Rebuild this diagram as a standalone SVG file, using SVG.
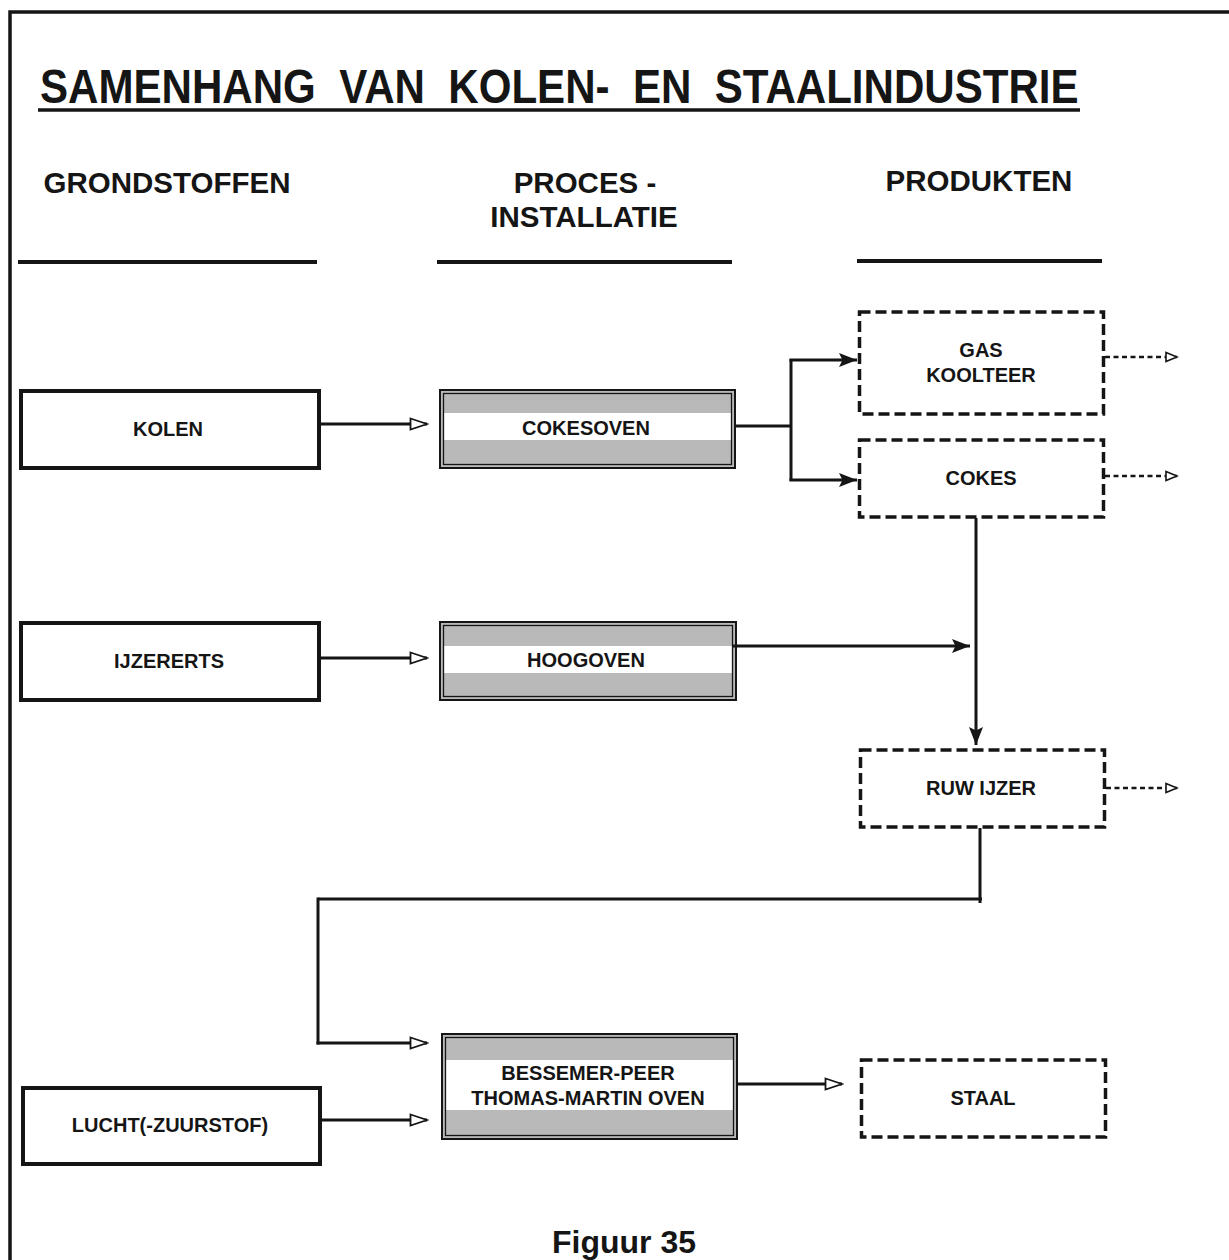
<svg xmlns="http://www.w3.org/2000/svg" width="1229" height="1260" viewBox="0 0 1229 1260">
<style>
text{font-family:"Liberation Sans",Arial,sans-serif;font-weight:bold;fill:#151515;text-anchor:middle}
.ttl{font-size:49px;text-anchor:start}
.hdr{font-size:29.5px}
.lbl{font-size:20px}
.raw{fill:#fff;stroke:#151515;stroke-width:4}
.procOuter{fill:#b9b9b9;stroke:#151515;stroke-width:2}
.procInner{fill:none;stroke:#151515;stroke-width:1.3}
.band{fill:#fff}
.prod{fill:#fff;stroke:#151515;stroke-width:3.5;stroke-dasharray:11 5}
.rule{stroke:#151515;stroke-width:4}
.conn{fill:none;stroke:#151515;stroke-width:3}
.dot{fill:none;stroke:#151515;stroke-width:2.5;stroke-dasharray:5 3.5}
</style>
<defs>
<marker id="open" viewBox="0 0 20 14" refX="18" refY="7" markerWidth="20" markerHeight="14" markerUnits="userSpaceOnUse" orient="auto">
<path d="M1.5,1.5 L18,7 L1.5,12.5 Z" fill="#fff" stroke="#151515" stroke-width="1.8"/>
</marker>
<marker id="small" viewBox="0 0 14 12" refX="12.5" refY="6" markerWidth="14" markerHeight="12" markerUnits="userSpaceOnUse" orient="auto">
<path d="M1.5,1.5 L12.5,6 L1.5,10.5 Z" fill="#fff" stroke="#151515" stroke-width="1.6"/>
</marker>
<marker id="solid" viewBox="0 0 18 14" refX="18" refY="7" markerWidth="18" markerHeight="14" markerUnits="userSpaceOnUse" orient="auto">
<path d="M0,0 L18,7 L0,14 L3.5,7 Z" fill="#151515"/>
</marker>
</defs>
<rect width="1229" height="1260" fill="#fff"/>
<g id="frame">
<path d="M10,1260 L10,12 L1229,12" fill="none" stroke="#151515" stroke-width="3.5"/>
</g>
<g id="title">
<text class="ttl" transform="translate(40,103) scale(0.859,1)" x="0" y="0" xml:space="preserve">SAMENHANG  VAN  KOLEN-  EN  STAALINDUSTRIE</text>
<line x1="38" y1="110" x2="1080" y2="110" stroke="#151515" stroke-width="3.5"/>
</g>
<g id="headers">
<text class="hdr" x="167" y="193">GRONDSTOFFEN</text>
<text class="hdr" x="585" y="193">PROCES -</text>
<text class="hdr" x="584" y="227">INSTALLATIE</text>
<text class="hdr" x="979" y="191">PRODUKTEN</text>
<line class="rule" x1="18" y1="262" x2="317" y2="262"/>
<line class="rule" x1="437" y1="262" x2="732" y2="262"/>
<line class="rule" x1="857" y1="261" x2="1102" y2="261"/>
</g>
<g id="kolen">
<rect class="raw" x="21" y="391" width="298" height="77"/>
<text class="lbl" x="168" y="436">KOLEN</text>
</g>
<g id="ijzererts">
<rect class="raw" x="21" y="623" width="298" height="77"/>
<text class="lbl" x="169" y="668">IJZERERTS</text>
</g>
<g id="lucht">
<rect class="raw" x="23" y="1088" width="297" height="76"/>
<text class="lbl" x="170" y="1132">LUCHT(-ZUURSTOF)</text>
</g>
<g id="cokesoven">
<rect class="procOuter" x="440" y="390" width="295" height="78"/>
<rect class="band" x="443" y="413" width="289" height="27"/>
<rect class="procInner" x="443.5" y="393.5" width="288" height="71"/>
<text class="lbl" x="586" y="435">COKESOVEN</text>
</g>
<g id="hoogoven">
<rect class="procOuter" x="440" y="622" width="296" height="78"/>
<rect class="band" x="443" y="646" width="290" height="27"/>
<rect class="procInner" x="443.5" y="625.5" width="289" height="71"/>
<text class="lbl" x="586" y="667">HOOGOVEN</text>
</g>
<g id="bessemer">
<rect class="procOuter" x="442" y="1034" width="295" height="105"/>
<rect class="band" x="445" y="1060" width="289" height="50"/>
<rect class="procInner" x="445.5" y="1037.5" width="288" height="98"/>
<text class="lbl" x="588" y="1080">BESSEMER-PEER</text>
<text class="lbl" x="588" y="1105">THOMAS-MARTIN OVEN</text>
</g>
<g id="gas">
<rect class="prod" x="859.5" y="312" width="244" height="102"/>
<text class="lbl" x="981" y="357">GAS</text>
<text class="lbl" x="981" y="382">KOOLTEER</text>
</g>
<g id="cokes">
<rect class="prod" x="859.5" y="440" width="244" height="77"/>
<text class="lbl" x="981" y="485">COKES</text>
</g>
<g id="ruwijzer">
<rect class="prod" x="860.5" y="750" width="244" height="77"/>
<text class="lbl" x="981" y="795">RUW IJZER</text>
</g>
<g id="staal">
<rect class="prod" x="861.5" y="1060" width="244" height="77"/>
<text class="lbl" x="983" y="1105">STAAL</text>
</g>
<g id="connectors">
<line class="conn" x1="321" y1="424" x2="427" y2="424" marker-end="url(#open)"/>
<line class="conn" x1="321" y1="658" x2="427" y2="658" marker-end="url(#open)"/>
<line class="conn" x1="736" y1="426" x2="791" y2="426"/>
<line class="conn" x1="791" y1="359" x2="791" y2="481"/>
<line class="conn" x1="789.5" y1="360" x2="857" y2="360" marker-end="url(#solid)"/>
<line class="conn" x1="789.5" y1="480" x2="857" y2="480" marker-end="url(#solid)"/>
<line class="conn" x1="976" y1="518" x2="976" y2="745" marker-end="url(#solid)"/>
<line class="conn" x1="732" y1="646" x2="970" y2="646" marker-end="url(#solid)"/>
<line class="conn" x1="980" y1="828" x2="980" y2="903"/>
<line class="conn" x1="982" y1="899" x2="318" y2="899"/>
<line class="conn" x1="318" y1="897.5" x2="318" y2="1044.5"/>
<line class="conn" x1="316.5" y1="1043" x2="427" y2="1043" marker-end="url(#open)"/>
<line class="conn" x1="321" y1="1120" x2="427" y2="1120" marker-end="url(#open)"/>
<line class="conn" x1="738" y1="1084" x2="842" y2="1084" marker-end="url(#open)"/>
<line class="dot" x1="1105" y1="357" x2="1177" y2="357" marker-end="url(#small)"/>
<line class="dot" x1="1105" y1="476" x2="1177" y2="476" marker-end="url(#small)"/>
<line class="dot" x1="1106" y1="788" x2="1177" y2="788" marker-end="url(#small)"/>
</g>
<g id="caption">
<text x="624" y="1253" font-size="32">Figuur 35</text>
</g>
</svg>
